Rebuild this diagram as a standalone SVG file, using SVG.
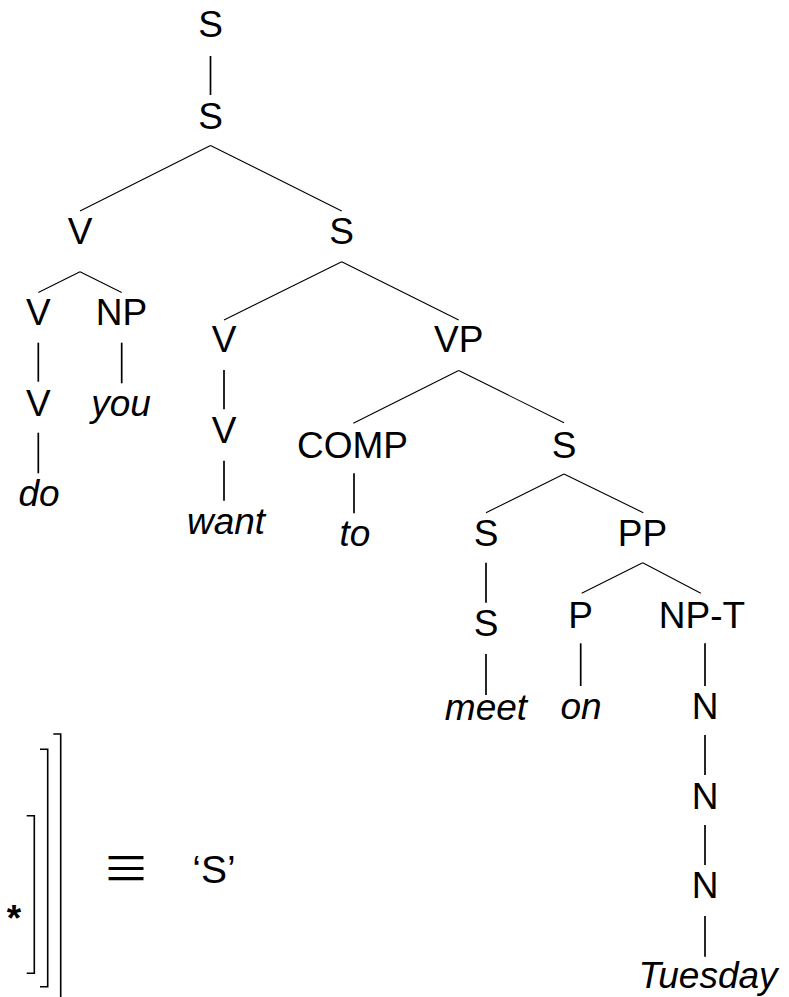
<svg xmlns="http://www.w3.org/2000/svg" width="789" height="997" viewBox="0 0 789 997">
<style>
text{font-family:"Liberation Sans",Arial,Helvetica,sans-serif;font-size:37px;fill:#000;text-anchor:middle}
.w{font-style:italic}
.e line{stroke:#000;stroke-width:1.1}
.e line.v{stroke-width:1.7}
.br{fill:none;stroke:#000;stroke-width:1.6}
</style>
<rect width="789" height="997" fill="#fff"/>
<g id="connectors" class="e">
<line class="v" x1="210.5" y1="56" x2="210.5" y2="95"/>
<line x1="210.5" y1="145.5" x2="80" y2="211"/>
<line x1="210.5" y1="145.5" x2="341.7" y2="211"/>
<line x1="80" y1="271.7" x2="38.3" y2="292.5"/>
<line x1="80" y1="271.7" x2="121.7" y2="292.5"/>
<line class="v" x1="38.3" y1="342.7" x2="38.3" y2="381.7"/>
<line class="v" x1="121.7" y1="342.7" x2="121.7" y2="383.3"/>
<line class="v" x1="38.3" y1="432.7" x2="38.3" y2="473.3"/>
<line x1="341.7" y1="261.7" x2="224" y2="320"/>
<line x1="341.7" y1="261.7" x2="458.7" y2="320"/>
<line class="v" x1="224" y1="370" x2="224" y2="409.3"/>
<line class="v" x1="224" y1="460.7" x2="224" y2="500.7"/>
<line x1="458.7" y1="370.6" x2="353.3" y2="423.3"/>
<line x1="458.7" y1="370.6" x2="564" y2="422.7"/>
<line class="v" x1="354" y1="473.3" x2="354" y2="513.3"/>
<line x1="564" y1="474" x2="486" y2="512.7"/>
<line x1="564" y1="474" x2="643.3" y2="512.7"/>
<line class="v" x1="486" y1="562.7" x2="486" y2="602.7"/>
<line class="v" x1="486" y1="654" x2="486" y2="695"/>
<line x1="642.7" y1="562.7" x2="581.7" y2="593.3"/>
<line x1="642.7" y1="562.7" x2="700.8" y2="593.3"/>
<line class="v" x1="580.7" y1="643.3" x2="580.7" y2="686"/>
<line class="v" x1="705" y1="643.3" x2="705" y2="686"/>
<line class="v" x1="705" y1="735" x2="705" y2="775"/>
<line class="v" x1="705" y1="825" x2="705" y2="865"/>
<line class="v" x1="705" y1="916" x2="705" y2="956.7"/>
</g>
<g id="n-S-root"><text x="210.5" y="37">S</text></g>
<g id="n-S-1"><text x="210.5" y="129">S</text></g>
<g id="n-V-a"><text x="80" y="244">V</text></g>
<g id="n-S-2"><text x="341.5" y="244">S</text></g>
<g id="n-V-b"><text x="38.3" y="325">V</text></g>
<g id="n-NP"><text x="121.5" y="325">NP</text></g>
<g id="n-V-c"><text x="38.3" y="416">V</text></g>
<g id="n-you"><text class="w" x="121" y="416">you</text></g>
<g id="n-do"><text class="w" x="39" y="506">do</text></g>
<g id="n-V-d"><text x="224" y="352">V</text></g>
<g id="n-VP"><text x="458.7" y="352">VP</text></g>
<g id="n-V-e"><text x="224" y="443">V</text></g>
<g id="n-want"><text class="w" x="226" y="534">want</text></g>
<g id="n-COMP"><text x="352.5" y="458">COMP</text></g>
<g id="n-S-3"><text x="564" y="458">S</text></g>
<g id="n-to"><text class="w" x="355" y="546">to</text></g>
<g id="n-S-4"><text x="486" y="546">S</text></g>
<g id="n-PP"><text x="642.5" y="546">PP</text></g>
<g id="n-S-5"><text x="486" y="636">S</text></g>
<g id="n-P"><text x="580.7" y="628">P</text></g>
<g id="n-NPT"><text x="702" y="628">NP-T</text></g>
<g id="n-meet"><text class="w" x="486" y="720">meet</text></g>
<g id="n-on"><text class="w" x="581" y="719">on</text></g>
<g id="n-N-1"><text x="705" y="719">N</text></g>
<g id="n-N-2"><text x="705" y="809">N</text></g>
<g id="n-N-3"><text x="705" y="898">N</text></g>
<g id="n-Tuesday"><text class="w" x="708" y="988">Tuesday</text></g>
<g id="legend">
<path class="br" d="M53.3,734 H60.7 V997"/>
<path class="br" d="M40,749.3 H47.7 V986.7 H40"/>
<path class="br" d="M26.7,815.7 H34.3 V973.3 H26.7"/>
<text x="14" y="931" font-weight="bold">*</text>
<text x="126" y="886" style="font-family:'Noto Sans CJK SC',sans-serif;font-size:48px">≡</text>
<text x="214" y="883" style="font-size:39px">‘S’</text>
</g>
</svg>
